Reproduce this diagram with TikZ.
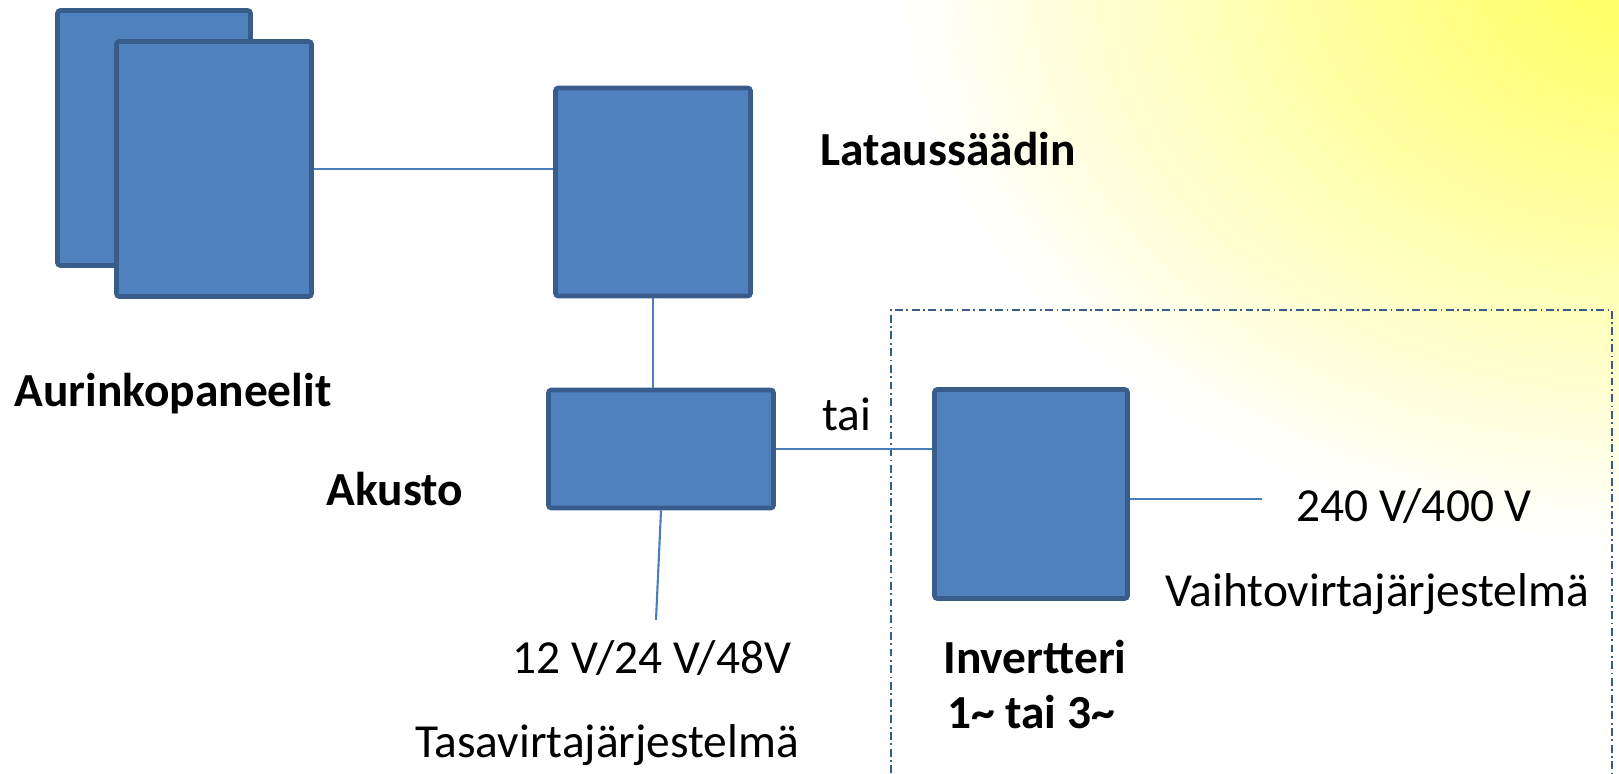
\documentclass[tikz,border=0pt]{standalone}
\usepackage{fontspec}
\setmainfont{Carlito}
\usetikzlibrary{calc}
\usetikzlibrary{positioning}

\definecolor{boxfill}{RGB}{79,129,189}
\definecolor{boxedge}{RGB}{56,93,138}
\definecolor{wire}{RGB}{74,126,187}
\definecolor{sunyellow}{RGB}{255,255,102}

\tikzset{
  unit/.style={draw=boxedge, fill=boxfill, line width=2.6pt, rounded corners=1.5pt, inner sep=0pt},
  wireline/.style={draw=wire, line width=1.2pt},
  lbl/.style={font=\fontsize{27}{31}\selectfont, anchor=base, inner sep=0pt},
  blbl/.style={lbl, font=\fontsize{27}{31}\selectfont\bfseries},
}

\begin{document}
\begin{tikzpicture}[x=0.02cm, y=-0.02cm]
\useasboundingbox (0,0) rectangle (1619,774);
% sunlight in the corner
\begin{scope}
 \clip (0,0) rectangle (1619,774);
 \foreach \k in {0,...,59} {
  \pgfmathsetmacro{\rr}{1-\k/60}
  \pgfmathsetmacro{\pc}{min(100,110*(1-\rr))}
  \fill[sunyellow!\pc!white] (1650,-30) ellipse [x radius=760*\rr, y radius=580*\rr];
 }
\end{scope}
% AC side
\draw[boxedge, line width=0.9pt, dash pattern=on 4.5pt off 2pt on 1pt off 2pt]
  (891,790) |- (1612,310) -- (1612,790);

% units
\node[unit, minimum width=3.86cm, minimum height=5.1cm] (panelB) at (154,138) {};
\node[unit, minimum width=3.9cm, minimum height=5.1cm] (panelA) at (214,169) {};
\node[unit, minimum width=3.9cm, minimum height=4.16cm] (saadin) at (653,192) {};
\node[unit, minimum width=4.5cm, minimum height=2.36cm] (akusto) at (661,449) {};
\node[unit, minimum width=3.86cm, minimum height=4.18cm] (inv) at (1031,494) {};

\coordinate (dcEnd) at (656,620);
\coordinate (acEnd) at (1262,499);

% wires
\draw[wireline] (panelA.east) -- (panelA.east -| saadin.west);
\draw[wireline] (saadin.south) -- (saadin.south |- akusto.north);
\draw[wireline] (akusto.east) -- (akusto.east -| inv.west);
\draw[wireline] (akusto.south) -- (dcEnd);
\draw[wireline] (inv.east |- acEnd) -- (acEnd);

% labels
\node[blbl] (lSaadin) at (948,165) {Lataussäädin};
\node[blbl] (lPanel) at (173,406) {Aurinkopaneelit};
\node[blbl] (lAkusto) at (395,505) {Akusto};
\node[lbl] (lTai) at (847,430) {tai};
\node[lbl] (lDcV) at (652,673) {12 V/24 V/48V};
\node[lbl] (lDc) at (607,757) {Tasavirtajärjestelmä};
\node[lbl] (lAcV) at (1414,521) {240 V/400 V};
\node[lbl] (lAc) at (1377,606) {Vaihtovirtajärjestelmä};
\node[blbl] (lInv) at (1035,673) {Invertteri};
\node[blbl] (lPhase) at (1031,728) {1\textasciitilde{} tai 3\textasciitilde};
\end{tikzpicture}
\end{document}
